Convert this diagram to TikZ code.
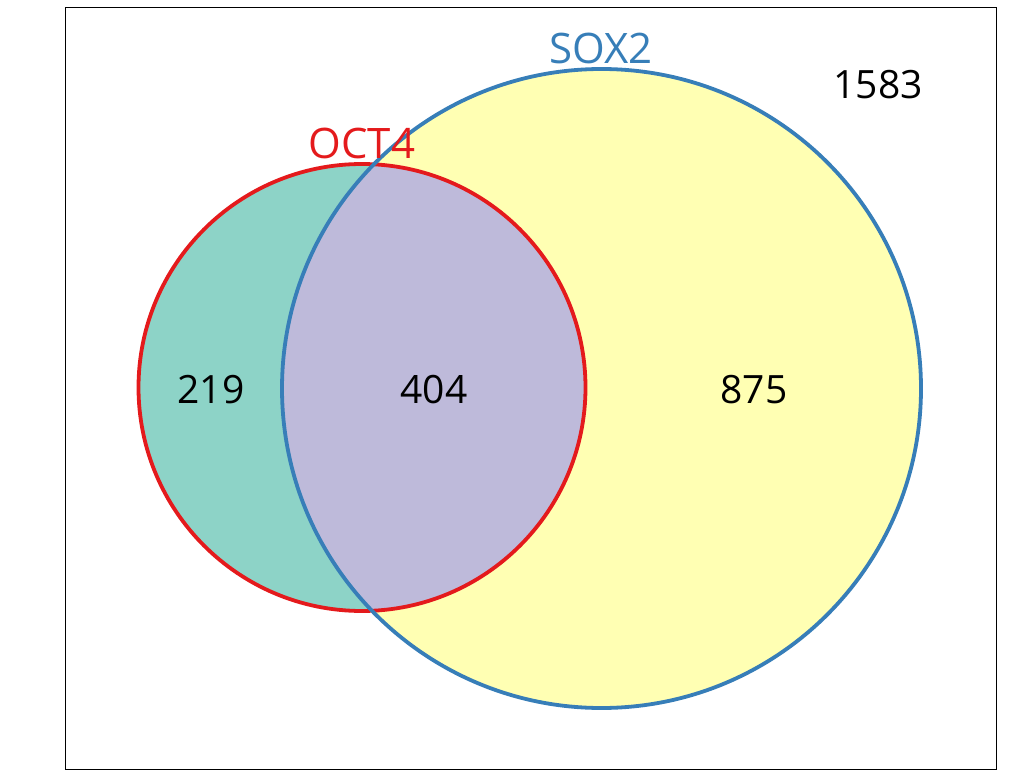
\documentclass[tikz,border=0pt]{standalone}
\usepackage{fontspec}
\setmainfont{Open Sans}
\definecolor{tealfill}{HTML}{8DD3C7}
\definecolor{lavfill}{HTML}{BEBADA}
\definecolor{yelfill}{HTML}{FFFFB3}
\definecolor{redline}{HTML}{E41A1C}
\definecolor{blueline}{HTML}{377EB8}
\begin{document}
\begin{tikzpicture}[x=1pt,y=-1pt,
  lbl/.style={font=\fontsize{39}{39}\selectfont, anchor=base, inner sep=0pt},
  setlbl/.style={font=\fontsize{42}{42}\selectfont, anchor=base, inner sep=0pt},
  ring/.style={line width=3.8pt}]
\useasboundingbox (0,0) rectangle (1024,783);
\node[draw=black, line width=1pt, minimum width=931pt, minimum height=761pt, inner sep=0pt] (frame) at (530.5,388.5) {};
\coordinate (oc) at (362,387.5);
\coordinate (sc) at (601.5,388.5);
\fill[tealfill] (oc) circle[radius=223.5];
\fill[yelfill] (sc) circle[radius=319.5];
\begin{scope}
\clip (oc) circle[radius=223.5];
\fill[lavfill] (sc) circle[radius=319.5];
\end{scope}
\draw[ring, redline] (oc) circle[radius=223.5];
\draw[ring, blueline] (sc) circle[radius=319.5];
\node[setlbl, text=blueline] (soxlbl) at (601,64) {SOX2};
\node[setlbl, text=redline] (octlbl) at (362,159) {OCT4};
\node[lbl] (n1583) at (878,99) {1583};
\node[lbl] (n219) at (211,403) {219};
\node[lbl] (n404) at (434,403) {404};
\node[lbl] (n875) at (754,403) {875};
\end{tikzpicture}
\end{document}
